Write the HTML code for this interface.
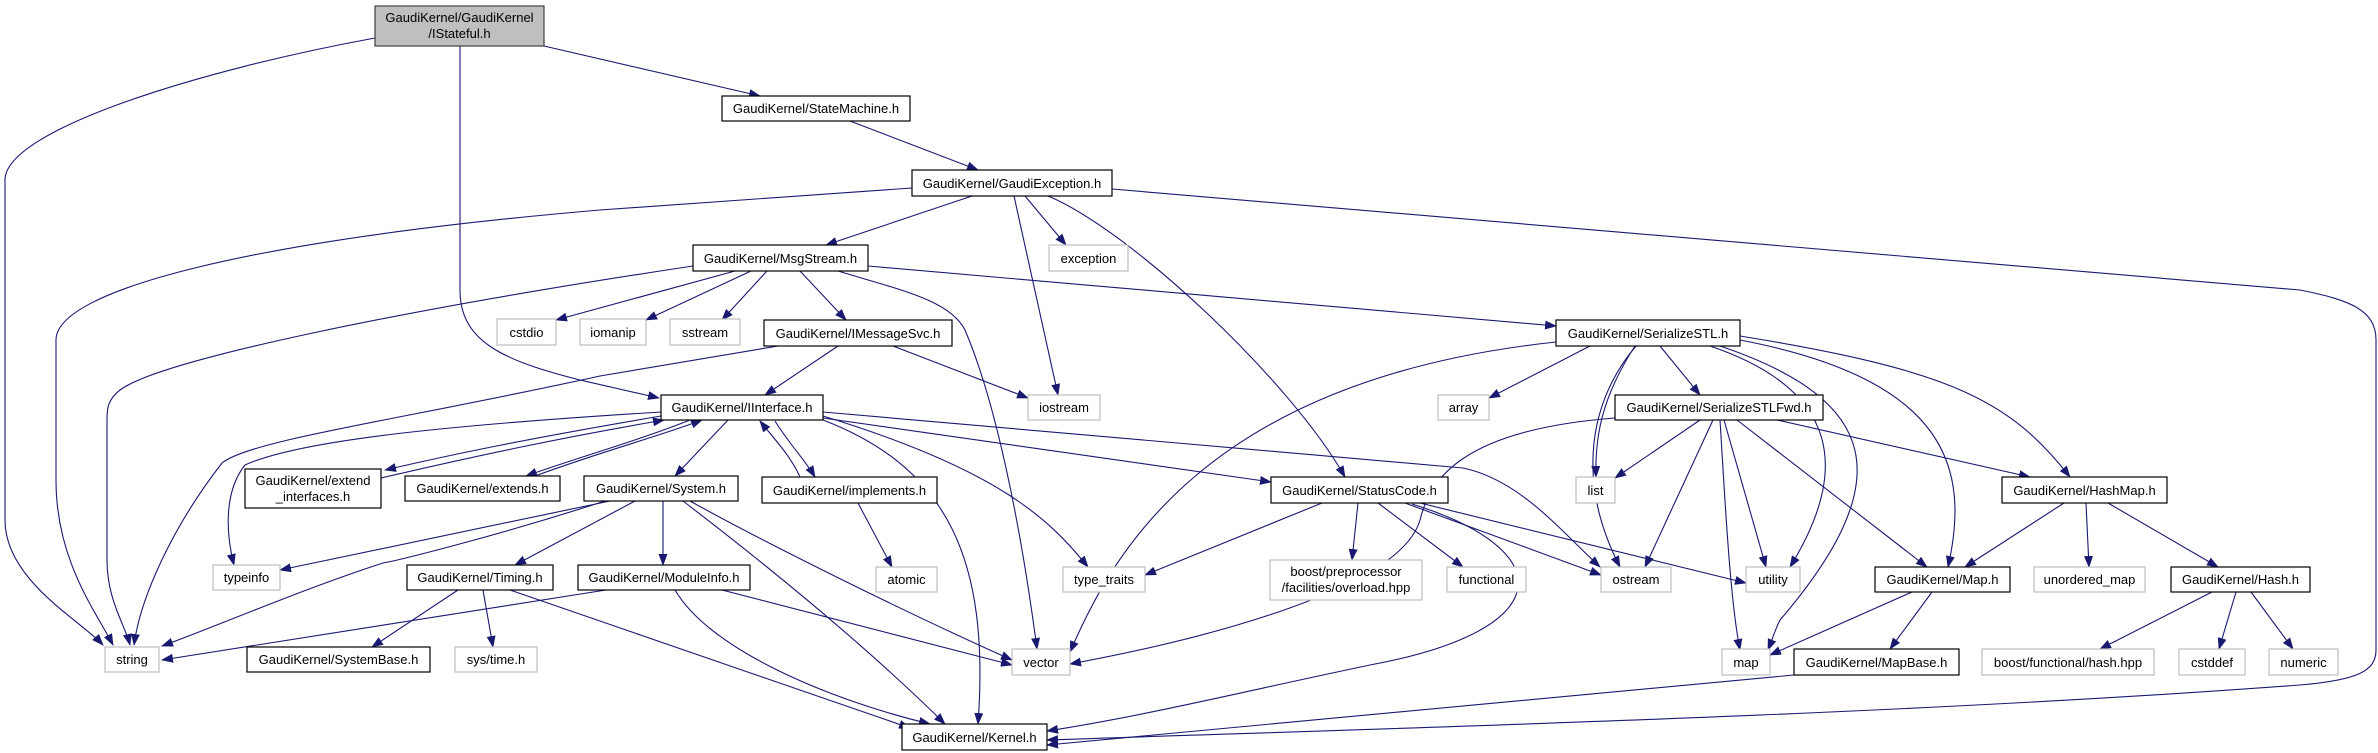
<!DOCTYPE html>
<html><head><meta charset="utf-8"><style>
html,body{margin:0;padding:0;background:#fff;}
svg{display:block;}
text{font-family:"Liberation Sans",Arial,sans-serif;font-size:13px;fill:#000;}
.n{fill:#fff;stroke:#000;stroke-width:1.2;}
.x{fill:#fff;stroke:#bfbfbf;stroke-width:1.2;}
.e{fill:none;stroke:#191970;stroke-width:1.1;marker-end:url(#a);}
</style></head><body>
<svg width="2378" height="753" viewBox="0 0 2378 753" xmlns="http://www.w3.org/2000/svg">
<defs><marker id="a" markerWidth="12" markerHeight="9" refX="11" refY="4.5" orient="auto" markerUnits="userSpaceOnUse"><path d="M0,0 L12,4.5 L0,9z" fill="#191970"/></marker></defs>
<g>
<!-- IStateful -->
<path class="e" d="M375,38 C200,70 5,130 5,180 L5,520 C5,580 80,620 103,645"/>
<path class="e" d="M460,46 L460,290 C460,340 500,360 580,380 L659,398"/>
<path class="e" d="M544,46 L760,96"/>
<!-- StateMachine -->
<path class="e" d="M850,121 L978,170"/>
<!-- GaudiException -->
<path class="e" d="M912,188 L600,210 C250,240 56,290 56,340 L56,480 C56,560 95,610 113,645"/>
<path class="e" d="M972,196 L826,245"/>
<path class="e" d="M1025,196 L1066,245"/>
<path class="e" d="M1014,196 L1058,395"/>
<path class="e" d="M1048,196 C1130,230 1290,380 1345,477"/>
<path class="e" d="M1112,189 L2300,290 C2350,300 2376,310 2376,340 L2376,650 C2376,670 2360,680 2300,685 C1900,715 1400,728 1047,740"/>
<!-- MsgStream -->
<path class="e" d="M693,266 C400,310 160,360 120,390 C107,400 107,410 107,420 L107,560 C107,600 125,625 130,645"/>
<path class="e" d="M735,271 L556,320"/>
<path class="e" d="M751,271 L646,320"/>
<path class="e" d="M767,271 L722,320"/>
<path class="e" d="M800,271 L846,320"/>
<path class="e" d="M838,271 C900,290 950,300 965,330 C995,400 1020,520 1037,649"/>
<path class="e" d="M868,266 L1556,326"/>
<!-- IMessageSvc -->
<path class="e" d="M838,346 L765,395"/>
<path class="e" d="M893,346 L1028,398"/>
<path class="e" d="M778,346 L600,376 C400,420 250,440 222,463 C170,530 140,600 134,645"/>
<!-- IInterface bidirectional -->
<path class="e" d="M661,416 C520,440 450,455 385,470"/>
<path class="e" d="M381,478 C480,455 560,438 664,420"/>
<path class="e" d="M690,420 C640,440 570,460 526,476"/>
<path class="e" d="M535,476 C600,452 660,436 702,420"/>
<path class="e" d="M728,420 L675,476"/>
<path class="e" d="M800,477 C790,455 775,440 760,421"/>
<path class="e" d="M775,421 C790,445 805,460 815,477"/>
<path class="e" d="M661,412 C450,425 300,440 245,465 C225,490 225,530 234,565"/>
<path class="e" d="M823,420 C948,468 990,560 978,724"/>
<path class="e" d="M823,416 C1000,470 1050,520 1088,567"/>
<path class="e" d="M823,418 L1271,482"/>
<path class="e" d="M823,412 L1463,468 C1520,480 1560,530 1600,567"/>
<!-- System -->
<path class="e" d="M610,501 L280,570"/>
<path class="e" d="M605,501 C500,535 400,560 383,563 C300,590 220,625 162,646"/>
<path class="e" d="M635,501 L515,565"/>
<path class="e" d="M663,501 L663,565"/>
<path class="e" d="M690,501 C760,540 900,610 1012,660"/>
<path class="e" d="M683,501 C760,560 860,640 945,724"/>
<!-- Timing -->
<path class="e" d="M458,590 L372,647"/>
<path class="e" d="M483,590 L493,647"/>
<path class="e" d="M510,590 L910,728"/>
<!-- ModuleInfo -->
<path class="e" d="M606,590 L162,660"/>
<path class="e" d="M675,590 C710,650 830,700 930,724"/>
<path class="e" d="M722,590 L1012,665"/>
<!-- implements -->
<path class="e" d="M858,503 L892,567"/>
<!-- StatusCode -->
<path class="e" d="M1322,503 L1145,575"/>
<path class="e" d="M1358,503 L1352,560"/>
<path class="e" d="M1378,503 L1463,567"/>
<path class="e" d="M1405,503 L1601,575"/>
<path class="e" d="M1420,503 L1746,583"/>
<path class="e" d="M1412,504 C1560,550 1560,630 1370,665 C1250,690 1150,715 1047,731"/>
<!-- SerializeSTL -->
<path class="e" d="M1556,342 C1200,380 1110,560 1070,652"/>
<path class="e" d="M1590,346 L1489,398"/>
<path class="e" d="M1635,346 C1600,400 1595,440 1596,477"/>
<path class="e" d="M1660,346 L1700,395"/>
<path class="e" d="M1636,346 C1590,400 1575,480 1620,567"/>
<path class="e" d="M1720,346 C1880,400 1900,480 1780,620 C1775,630 1772,640 1768,650"/>
<path class="e" d="M1710,346 C1840,390 1850,470 1790,567"/>
<path class="e" d="M1740,340 C1950,380 1970,470 1948,567"/>
<path class="e" d="M1740,336 C1950,370 2010,400 2070,477"/>
<!-- SerializeSTLFwd -->
<path class="e" d="M1615,418 C1460,430 1430,480 1420,520 C1400,590 1200,640 1070,664"/>
<path class="e" d="M1700,420 L1615,478"/>
<path class="e" d="M1713,420 L1645,567"/>
<path class="e" d="M1720,420 C1725,500 1730,600 1740,650"/>
<path class="e" d="M1724,420 L1766,567"/>
<path class="e" d="M1737,420 L1927,567"/>
<path class="e" d="M1777,420 L2030,477"/>
<!-- HashMap -->
<path class="e" d="M2064,503 L1965,567"/>
<path class="e" d="M2086,503 L2089,567"/>
<path class="e" d="M2108,503 L2218,567"/>
<!-- Map -->
<path class="e" d="M1912,592 L1770,655"/>
<path class="e" d="M1932,592 L1890,649"/>
<!-- MapBase -->
<path class="e" d="M1794,675 L1047,745"/>
<!-- Hash -->
<path class="e" d="M2212,592 L2100,649"/>
<path class="e" d="M2236,592 L2219,649"/>
<path class="e" d="M2251,592 L2293,649"/>
</g>
<g>
<rect x="375" y="6" width="169" height="40" fill="#bfbfbf" stroke="#404040" stroke-width="1.2"/>
<text x="459.5" y="22" text-anchor="middle">GaudiKernel/GaudiKernel</text>
<text x="459.5" y="38" text-anchor="middle">/IStateful.h</text>

<rect class="n" x="722" y="96" width="188" height="25"/><text x="816" y="113" text-anchor="middle">GaudiKernel/StateMachine.h</text>
<rect class="n" x="912" y="170" width="200" height="26"/><text x="1012" y="188" text-anchor="middle">GaudiKernel/GaudiException.h</text>
<rect class="n" x="693" y="245" width="175" height="26"/><text x="780.5" y="263" text-anchor="middle">GaudiKernel/MsgStream.h</text>
<rect class="x" x="1049" y="245" width="79" height="26"/><text x="1088.5" y="263" text-anchor="middle">exception</text>
<rect class="x" x="497" y="319" width="59" height="26"/><text x="526.5" y="337" text-anchor="middle">cstdio</text>
<rect class="x" x="580" y="319" width="66" height="26"/><text x="613" y="337" text-anchor="middle">iomanip</text>
<rect class="x" x="670" y="319" width="70" height="26"/><text x="705" y="337" text-anchor="middle">sstream</text>
<rect class="n" x="764" y="320" width="188" height="26"/><text x="858" y="338" text-anchor="middle">GaudiKernel/IMessageSvc.h</text>
<rect class="n" x="1556" y="320" width="184" height="26"/><text x="1648" y="338" text-anchor="middle">GaudiKernel/SerializeSTL.h</text>
<rect class="n" x="661" y="395" width="162" height="25"/><text x="742" y="412" text-anchor="middle">GaudiKernel/IInterface.h</text>
<rect class="x" x="1028" y="395" width="72" height="25"/><text x="1064" y="412" text-anchor="middle">iostream</text>
<rect class="x" x="1438" y="395" width="51" height="25"/><text x="1463.5" y="412" text-anchor="middle">array</text>
<rect class="n" x="1615" y="395" width="208" height="25"/><text x="1719" y="412" text-anchor="middle">GaudiKernel/SerializeSTLFwd.h</text>
<rect class="n" x="245" y="469" width="136" height="39"/><text x="313" y="485" text-anchor="middle">GaudiKernel/extend</text><text x="313" y="501" text-anchor="middle">_interfaces.h</text>
<rect class="n" x="405" y="476" width="155" height="25"/><text x="482.5" y="493" text-anchor="middle">GaudiKernel/extends.h</text>
<rect class="n" x="584" y="476" width="154" height="25"/><text x="661" y="493" text-anchor="middle">GaudiKernel/System.h</text>
<rect class="n" x="762" y="477" width="175" height="26"/><text x="849.5" y="495" text-anchor="middle">GaudiKernel/implements.h</text>
<rect class="n" x="1271" y="477" width="177" height="26"/><text x="1359.5" y="495" text-anchor="middle">GaudiKernel/StatusCode.h</text>
<rect class="x" x="1576" y="477" width="39" height="26"/><text x="1595.5" y="495" text-anchor="middle">list</text>
<rect class="n" x="2002" y="477" width="165" height="26"/><text x="2084.5" y="495" text-anchor="middle">GaudiKernel/HashMap.h</text>
<rect class="x" x="213" y="565" width="67" height="25"/><text x="246.5" y="582" text-anchor="middle">typeinfo</text>
<rect class="n" x="407" y="565" width="146" height="25"/><text x="480" y="582" text-anchor="middle">GaudiKernel/Timing.h</text>
<rect class="n" x="578" y="565" width="172" height="25"/><text x="664" y="582" text-anchor="middle">GaudiKernel/ModuleInfo.h</text>
<rect class="x" x="876" y="567" width="61" height="25"/><text x="906.5" y="584" text-anchor="middle">atomic</text>
<rect class="x" x="1063" y="567" width="82" height="25"/><text x="1104" y="584" text-anchor="middle">type_traits</text>
<rect class="x" x="1270" y="560" width="152" height="40"/><text x="1346" y="576" text-anchor="middle">boost/preprocessor</text><text x="1346" y="592" text-anchor="middle">/facilities/overload.hpp</text>
<rect class="x" x="1447" y="567" width="79" height="25"/><text x="1486.5" y="584" text-anchor="middle">functional</text>
<rect class="x" x="1601" y="567" width="70" height="25"/><text x="1636" y="584" text-anchor="middle">ostream</text>
<rect class="x" x="1746" y="567" width="54" height="25"/><text x="1773" y="584" text-anchor="middle">utility</text>
<rect class="n" x="1875" y="567" width="135" height="25"/><text x="1942.5" y="584" text-anchor="middle">GaudiKernel/Map.h</text>
<rect class="x" x="2034" y="567" width="111" height="25"/><text x="2089.5" y="584" text-anchor="middle">unordered_map</text>
<rect class="n" x="2171" y="567" width="139" height="25"/><text x="2240.5" y="584" text-anchor="middle">GaudiKernel/Hash.h</text>
<rect class="x" x="105" y="647" width="54" height="25"/><text x="132" y="664" text-anchor="middle">string</text>
<rect class="n" x="247" y="647" width="183" height="25"/><text x="338.5" y="664" text-anchor="middle">GaudiKernel/SystemBase.h</text>
<rect class="x" x="455" y="647" width="82" height="25"/><text x="496" y="664" text-anchor="middle">sys/time.h</text>
<rect class="x" x="1012" y="649" width="58" height="26"/><text x="1041" y="667" text-anchor="middle">vector</text>
<rect class="x" x="1722" y="649" width="48" height="26"/><text x="1746" y="667" text-anchor="middle">map</text>
<rect class="n" x="1794" y="649" width="165" height="26"/><text x="1876.5" y="667" text-anchor="middle">GaudiKernel/MapBase.h</text>
<rect class="x" x="1982" y="649" width="172" height="26"/><text x="2068" y="667" text-anchor="middle">boost/functional/hash.hpp</text>
<rect class="x" x="2179" y="649" width="66" height="26"/><text x="2212" y="667" text-anchor="middle">cstddef</text>
<rect class="x" x="2269" y="649" width="69" height="26"/><text x="2303.5" y="667" text-anchor="middle">numeric</text>
<rect class="n" x="902" y="724" width="145" height="26"/><text x="974.5" y="742" text-anchor="middle">GaudiKernel/Kernel.h</text>
</g>
</svg>
</body></html>
